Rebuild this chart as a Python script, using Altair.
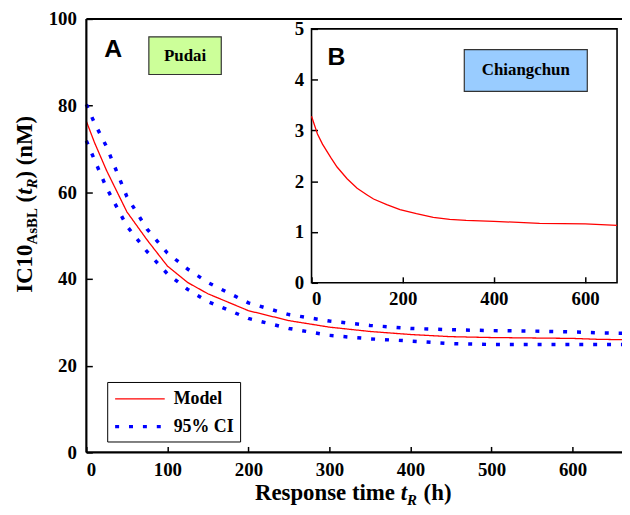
import altair as alt
import pandas as pd

# ---- data ----
t_main = [0, 10, 25, 50, 75, 100, 125, 150, 200, 250, 300, 350, 400, 450, 500, 550, 600, 630, 661]
model = [76.4, 71.5, 65.0, 55.5, 49.0, 43.0, 39.2, 36.6, 32.7, 30.4, 28.9, 27.9, 27.2, 26.7, 26.5, 26.4, 26.3, 26.1, 26.0]
ci_upper = [80.3, 76.0, 70.5, 59.0, 51.5, 46.0, 42.3, 39.2, 34.5, 31.8, 30.3, 29.3, 28.6, 28.3, 28.1, 28.0, 27.8, 27.6, 27.5]
ci_lower = [71.9, 67.5, 61.0, 52.2, 46.3, 41.2, 37.6, 34.8, 30.9, 28.6, 27.0, 26.2, 25.7, 25.1, 24.9, 24.9, 24.9, 24.9, 24.9]

t_inset = [0, 13, 24, 42, 56, 78, 100, 122, 136, 165, 194, 230, 267, 303, 339, 400, 500, 600, 670]
inset_model = [3.28, 2.93, 2.73, 2.47, 2.28, 2.05, 1.86, 1.73, 1.65, 1.54, 1.44, 1.36, 1.29, 1.25, 1.23, 1.21, 1.17, 1.16, 1.13]

series_names = ["Model", "95% CI"]
x_ticks_main = [0, 100, 200, 300, 400, 500, 600]
y_ticks_main = [0, 20, 40, 60, 80, 100]
x_ticks_inset = [0, 200, 400, 600]
y_ticks_inset = [0, 1, 2, 3, 4, 5]

rows = []
for name, band, vals in [("Model", "model", model), ("95% CI", "upper", ci_upper), ("95% CI", "lower", ci_lower)]:
    for t, v in zip(t_main, vals):
        rows.append({"t": t, "v": v, "series": name, "band": band})
df_main = pd.DataFrame(rows)
df_inset = pd.DataFrame({"t": t_inset, "v": inset_model})
dummy = pd.DataFrame({"a": [0]})

W, H = 540, 437
SERIF = "Liberation Serif"

axis_common = dict(
    labelFont=SERIF, labelFontWeight="bold", labelFontSize=19, labelColor="black",
    tickColor="black", tickWidth=1.5, tickSize=6, domain=False, grid=False, title=None,
)

legend_spec = dict(
    orient="none", legendX=21, legendY=366, title=None,
    symbolType="M-2.5,0L2.5,0", symbolSize=400, symbolOffset=15,
    labelFont=SERIF, labelFontWeight="bold", labelFontSize=18, labelColor="black",
    labelOffset=22, strokeColor="black", fillColor="white", padding=6, rowPadding=7,
)

main = alt.Chart(df_main).mark_line().encode(
    x=alt.X("t:Q", scale=alt.Scale(domain=[0, 661], nice=False, zero=False),
            axis=alt.Axis(orient="bottom", values=x_ticks_main, offset=-6, labelPadding=8, **axis_common)),
    y=alt.Y("v:Q", scale=alt.Scale(domain=[0, 100], nice=False),
            axis=alt.Axis(orient="left", values=y_ticks_main, offset=-6, labelPadding=10, **axis_common)),
    color=alt.Color("series:N", scale=alt.Scale(domain=series_names, range=["#ff0000", "#0000ff"]),
                    legend=alt.Legend(**legend_spec)),
    strokeDash=alt.StrokeDash("series:N", scale=alt.Scale(domain=series_names, range=[[1, 0], [4, 10]]),
                              legend=alt.Legend(**legend_spec)),
    strokeWidth=alt.StrokeWidth("series:N", scale=alt.Scale(domain=series_names, range=[1.3, 3.5]),
                                legend=alt.Legend(**legend_spec)),
    detail="band:N",
)

inset_line = alt.Chart(df_inset).mark_line(color="#ff0000", strokeWidth=1.3).encode(
    x=alt.X("t:Q", scale=alt.Scale(domain=[0, 670], range=[227, 535], nice=False, zero=False),
            axis=alt.Axis(orient="bottom", values=x_ticks_inset, offset=-177, labelPadding=7, **axis_common)),
    y=alt.Y("v:Q", scale=alt.Scale(domain=[0, 5], range=[266, 10], nice=False),
            axis=alt.Axis(orient="left", values=y_ticks_inset, offset=-233, labelPadding=8, **axis_common)),
)

# frame lines of the main plot
left_line = alt.Chart(dummy).mark_rule(color="black", strokeWidth=2.2).encode(
    x=alt.value(0), y=alt.value(0), y2=alt.value(H))
bottom_line = alt.Chart(dummy).mark_rule(color="black", strokeWidth=2.2).encode(
    x=alt.value(0), x2=alt.value(W), y=alt.value(H))
top_line = alt.Chart(dummy).mark_rule(color="black", strokeWidth=2).encode(
    x=alt.value(0), x2=alt.value(W), y=alt.value(0))

inset_frame = alt.Chart(dummy).mark_rect(fill="transparent", stroke="black", strokeWidth=1.6).encode(
    x=alt.value(227), x2=alt.value(535), y=alt.value(10), y2=alt.value(266))

pudai_box = alt.Chart(dummy).mark_rect(fill="#ccff99", stroke="#333333", strokeWidth=1.2).encode(
    x=alt.value(63), x2=alt.value(136), y=alt.value(18), y2=alt.value(56))
chiang_box = alt.Chart(dummy).mark_rect(fill="#99ccff", stroke="#333333", strokeWidth=1.2).encode(
    x=alt.value(381), x2=alt.value(505), y=alt.value(31), y2=alt.value(73))


def txt(s, x, y, size, font=SERIF, weight="bold", style="normal", align="left", baseline="alphabetic", angle=0):
    return alt.Chart(dummy).mark_text(
        text=s, font=font, fontSize=size, fontWeight=weight, fontStyle=style,
        align=align, baseline=baseline, angle=angle, color="black",
    ).encode(x=alt.value(x), y=alt.value(y))


labels = [
    txt("A", 18, 38, 25, font="Liberation Sans"),
    txt("B", 243, 46, 25, font="Liberation Sans"),
    txt("Pudai", 99.5, 37, 17, align="center", baseline="middle"),
    txt("Chiangchun", 443, 52, 17, align="center", baseline="middle"),
    # y title pieces (rotated, reading upward)
    txt("IC10", -55, 276, 23, angle=270),
    txt("AsBL", -50, 227.4, 15, angle=270),
    txt("(", -55, 185.0, 23, angle=270),
    txt("t", -55, 177.3, 23, style="italic", angle=270),
    txt("R", -50, 170.9, 15, style="italic", angle=270),
    txt(") (nM)", -55, 160.9, 23, angle=270),
    # x title pieces
    txt("Response time", 170, 485, 23),
    txt("t", 316.9, 485, 23, style="italic"),
    txt("R", 323.3, 490, 15, style="italic"),
    txt("(h)", 340, 485, 23),
]

chart = alt.layer(
    main, inset_frame, inset_line, left_line, bottom_line, top_line,
    pudai_box, chiang_box, *labels,
).resolve_scale(x="independent", y="independent").properties(
    width=W, height=H,
    autosize=alt.AutoSizeParams(type="none"),
    padding={"left": 79, "top": 9, "right": 0, "bottom": 53},
).configure_view(stroke=None)

chart.save("out.html", embed_options={"renderer": "svg", "actions": False})
